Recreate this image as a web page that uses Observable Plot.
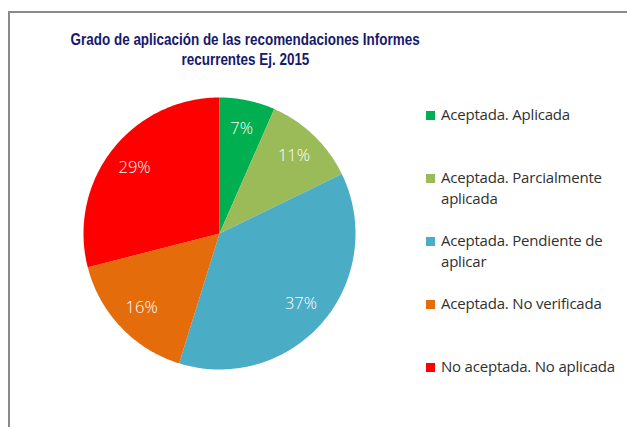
<!DOCTYPE html>
<html>
<head>
<meta charset="utf-8">
<script src="https://cdn.jsdelivr.net/npm/d3@7"></script>
<script src="https://cdn.jsdelivr.net/npm/@observablehq/plot@0.6"></script>
<style>
  html, body { margin: 0; padding: 0; background: #fff; }
  #wrap { position: relative; width: 627px; height: 427px; overflow: hidden; }
  #frame { position: absolute; left: 8px; top: 11px; width: 700px; height: 500px;
           border-top: 2px solid #8a8a8a; border-left: 2px solid #8a8a8a; }
  #title { position: absolute; left: -55px; width: 600px; top: 29px; text-align: center;
           font-family: "Liberation Sans", Arial, sans-serif; font-weight: bold;
           font-size: 16.5px; line-height: 20px; color: #17196c; white-space: nowrap; }
  #title span { display: inline-block; transform-origin: 50% 50%; }
  #chart { position: absolute; left: 0; top: 0; }
  #legend { position: absolute; left: 426px; top: 104px; font-family: "Open Sans", sans-serif;
            font-size: 15px; letter-spacing: -0.2px; color: #303030; }
  .item { position: relative; height: 63px; padding-left: 15px; line-height: 20.5px; }
  .sw { position: absolute; left: 0; top: 7px; width: 9px; height: 9px; }
</style>
</head>
<body>
<div id="wrap">
  <div id="frame"></div>
  <div id="chart"></div>
  <div id="title"><span id="t1">Grado de aplicación de las recomendaciones Informes</span><br><span id="t2">recurrentes Ej. 2015</span></div>
  <div id="legend"></div>
</div>
<script>
const categories = [
  "Aceptada. Aplicada",
  "Aceptada. Parcialmente aplicada",
  "Aceptada. Pendiente de aplicar",
  "Aceptada. No verificada",
  "No aceptada. No aplicada"
];
const legendLines = [
  ["Aceptada. Aplicada"],
  ["Aceptada. Parcialmente", "aplicada"],
  ["Aceptada. Pendiente de", "aplicar"],
  ["Aceptada. No verificada"],
  ["No aceptada. No aplicada"]
];
const values = [6.6, 11.2, 37.0, 16.2, 29.0];
const colors = ["#00b050", "#9bbb59", "#4bacc6", "#e46c0a", "#ff0000"];

// pie geometry (unit circle coordinates, mapped by Plot's x/y scales)
const total = d3.sum(values);
const arcs = d3.pie().sort(null).value(d => d)(values);
const slices = arcs.map((a, i) => {
  const pts = [{u: 0, v: 0}];
  const n = Math.max(2, Math.ceil((a.endAngle - a.startAngle) / (Math.PI / 180)));
  for (let k = 0; k <= n; k++) {
    const t = a.startAngle + (a.endAngle - a.startAngle) * k / n;
    pts.push({u: Math.sin(t), v: Math.cos(t)});
  }
  pts.push({u: 0, v: 0});
  return {points: pts, color: colors[i]};
});
const labels = arcs.map((a, i) => {
  const m = (a.startAngle + a.endAngle) / 2;
  return {u: 0.79 * Math.sin(m), v: 0.79 * Math.cos(m), text: Math.round(values[i] / total * 100) + "%"};
});

const R = 136, cx = 219, cy = 233, W = 627, H = 427;
const plot = Plot.plot({
  width: W, height: H,
  marginTop: 0, marginRight: 0, marginBottom: 0, marginLeft: 0,
  x: {domain: [-cx / R, (W - cx) / R], range: [0, W], axis: null},
  y: {domain: [-(H - cy) / R, cy / R], range: [H, 0], axis: null},
  style: {background: "transparent", overflow: "visible"},
  marks: [
    ...slices.map(s => Plot.line(s.points, {x: "u", y: "v", fill: s.color, stroke: "none", curve: "linear"})),
    Plot.text(labels, {x: "u", y: "v", text: "text", fill: "white", fontSize: 16.5,
      fontWeight: 300, fontFamily: "Open Sans", textAnchor: "middle"})
  ]
});
document.getElementById("chart").appendChild(plot);

const leg = document.getElementById("legend");
categories.forEach((c, i) => {
  const it = document.createElement("div");
  it.className = "item";
  it.innerHTML = `<span class="sw" style="background:${colors[i]}"></span>` + legendLines[i].join("<br>");
  leg.appendChild(it);
});

// condense the title to the reference's narrow face
const t1 = document.getElementById("t1"), t2 = document.getElementById("t2");
const k = 349 / t1.getBoundingClientRect().width;
t1.style.transform = `scaleX(${k})`;
t2.style.transform = `scaleX(${k})`;
</script>
</body>
</html>
